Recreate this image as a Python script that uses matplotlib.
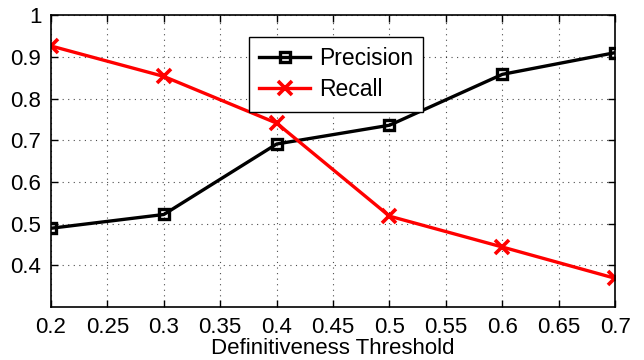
import matplotlib
matplotlib.use('Agg')
import matplotlib.pyplot as plt

# ---------- data ----------
thresholds = [0.2, 0.3, 0.4, 0.5, 0.6, 0.7]
precision = [0.489, 0.522, 0.691, 0.736, 0.858, 0.910]
recall = [0.926, 0.853, 0.741, 0.518, 0.444, 0.369]

x_ticks = [0.2, 0.25, 0.3, 0.35, 0.4, 0.45, 0.5, 0.55, 0.6, 0.65, 0.7]
x_tick_labels = ['0.2', '0.25', '0.3', '0.35', '0.4', '0.45', '0.5', '0.55', '0.6', '0.65', '0.7']
y_ticks = [0.4, 0.5, 0.6, 0.7, 0.8, 0.9, 1.0]
y_tick_labels = ['0.4', '0.5', '0.6', '0.7', '0.8', '0.9', '1']

plt.rcParams['font.family'] = ['Liberation Sans', 'DejaVu Sans']

fig = plt.figure(figsize=(6.44, 3.6), dpi=100)
ax = fig.add_axes([0.0792, 0.147, 0.876, 0.811])

ax.plot(thresholds, precision, color='black', lw=2.4, marker='s', ms=7,
        mfc='none', mew=2.4, label='Precision')
ax.plot(thresholds, recall, color='red', lw=2.4, marker='x', ms=10,
        mew=2.6, label='Recall')

ax.set_xlim(0.2, 0.7)
ax.set_ylim(0.3, 1.0)
ax.set_xticks(x_ticks)
ax.set_xticklabels(x_tick_labels)
ax.set_yticks(y_ticks)
ax.set_yticklabels(y_tick_labels)
ax.tick_params(labelsize=16, direction='in', length=5, width=1,
               top=True, right=True, pad=7)
for s in ax.spines.values():
    s.set_linewidth(1.2)
ax.grid(True, ls=(0, (1, 4)), color='black', lw=0.8, alpha=0.7)

ax.set_xlabel('Definitiveness Threshold', fontsize=16, labelpad=0)

leg = ax.legend(loc='upper left', bbox_to_anchor=(0.351, 0.925), fontsize=16.5,
                fancybox=False, edgecolor='black', framealpha=1,
                handlelength=2.2, borderpad=0.45, labelspacing=0.35,
                handletextpad=0.4, borderaxespad=0)
leg.get_frame().set_linewidth(1.0)

fig.savefig('out.png', dpi=100)
